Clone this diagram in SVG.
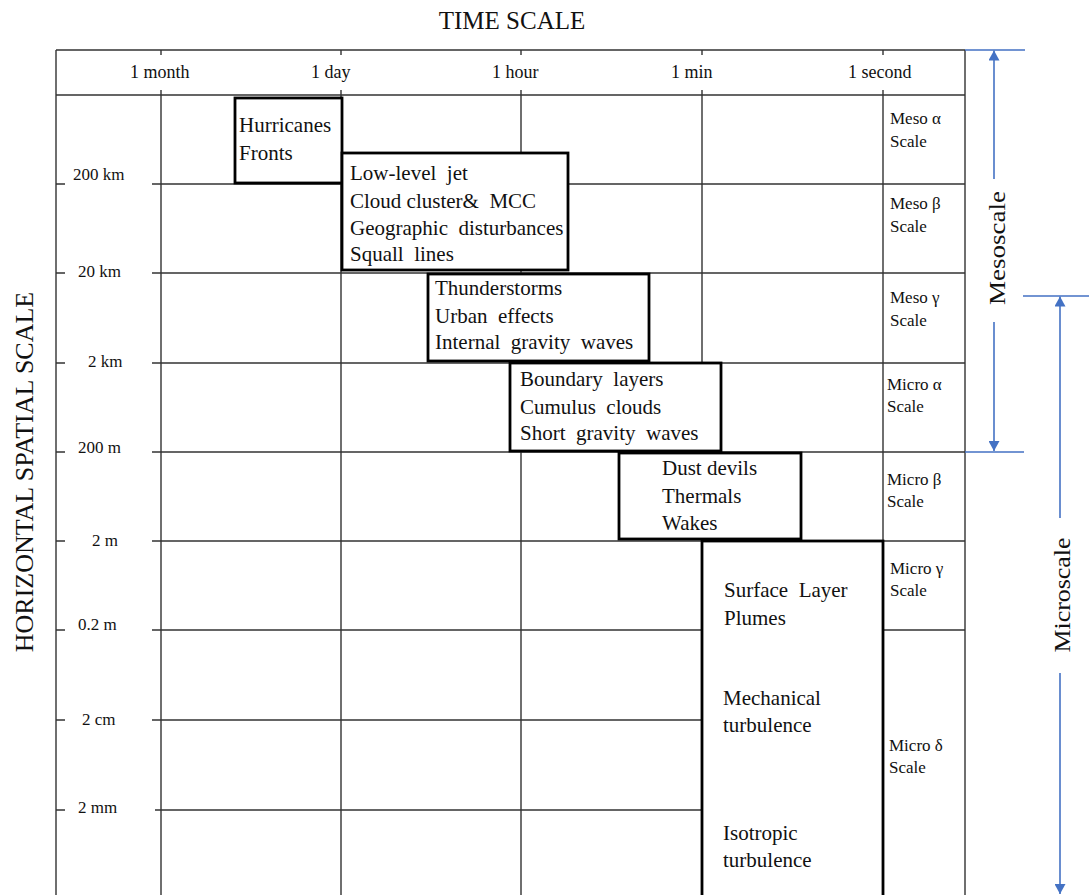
<svg xmlns="http://www.w3.org/2000/svg" width="1089" height="895" viewBox="0 0 1089 895">
<defs>
<marker id="ah" viewBox="0 0 10 10" refX="10" refY="5" markerWidth="10" markerHeight="11" markerUnits="userSpaceOnUse" orient="auto-start-reverse" preserveAspectRatio="none">
<path d="M0,0 L10,5 L0,10 Z" fill="#4472C4"/>
</marker>
<style>
.t{font-family:"Liberation Serif","Times New Roman",serif;fill:#111}
.grid{stroke:#333;stroke-width:1.4;fill:none}
.box{fill:#fff;stroke:#000;stroke-width:2.8}
.bt{font-size:21px}
.hd{font-size:18px}
.rl{font-size:17px}
.sc{font-size:17px}
.blue{stroke:#4472C4;stroke-width:1.6;fill:none}
</style>
</defs>
<rect width="1089" height="895" fill="#fff"/>
<text class="t" x="512" y="29" font-size="25" text-anchor="middle">TIME SCALE</text>
<text class="t" transform="translate(33,472) rotate(-90)" font-size="26" text-anchor="middle">HORIZONTAL SPATIAL SCALE</text>
<g id="grid" class="grid">
<path d="M56,50 H965 M56,95 H965 M56,50 V895 M965,50 V895"/>
<path d="M161,95 V895 M341,95 V895 M521,95 V895 M702,95 V895 M883,95 V895"/>
<path d="M161,50 V55 M341,50 V55 M521,50 V55 M702,50 V55 M883,50 V55 M161,90 V95 M341,90 V95 M521,90 V95 M702,90 V95 M883,90 V95"/>
<path d="M152,184 H965 M152,273 H965 M152,363 H965 M152,452 H965 M152,541 H965 M152,630 H702 M883,630 H965 M152,720 H702 M155,810 H702"/>
<path d="M56,184 H65 M56,273 H65 M56,363 H65 M56,452 H65 M56,541 H65 M56,630 H65 M56,720 H65 M56,810 H65"/>
</g>
<g id="header-labels" class="t hd">
<text x="130" y="78">1 month</text>
<text x="311" y="78">1 day</text>
<text x="492" y="78">1 hour</text>
<text x="671" y="78">1 min</text>
<text x="848" y="78">1 second</text>
</g>
<g id="row-labels" class="t rl">
<text x="73" y="180">200 km</text>
<text x="78" y="277">20 km</text>
<text x="88" y="367">2 km</text>
<text x="78" y="453">200 m</text>
<text x="92" y="546">2 m</text>
<text x="78" y="630">0.2 m</text>
<text x="82" y="725">2 cm</text>
<text x="78" y="813">2 mm</text>
</g>
<g id="scale-labels" class="t sc">
<text x="890" y="124">Meso α</text><text x="890" y="147">Scale</text>
<text x="890" y="209">Meso β</text><text x="890" y="232">Scale</text>
<text x="890" y="303">Meso γ</text><text x="890" y="326">Scale</text>
<text x="887" y="390">Micro α</text><text x="887" y="412">Scale</text>
<text x="887" y="485">Micro β</text><text x="887" y="507">Scale</text>
<text x="890" y="574">Micro γ</text><text x="890" y="596">Scale</text>
<text x="889" y="751">Micro δ</text><text x="889" y="773">Scale</text>
</g>
<g id="hurricanes">
<rect class="box" x="235" y="98" width="107" height="85"/>
<text class="t bt" x="239" y="132">Hurricanes</text>
<text class="t bt" x="239" y="160">Fronts</text>
</g>
<g id="lowleveljet">
<rect class="box" x="342" y="153" width="226" height="117"/>
<text class="t bt" x="350" y="180" xml:space="preserve">Low-level  jet</text>
<text class="t bt" x="350" y="208" xml:space="preserve">Cloud cluster&amp;  MCC</text>
<text class="t bt" x="350" y="235" xml:space="preserve">Geographic  disturbances</text>
<text class="t bt" x="350" y="261" xml:space="preserve">Squall  lines</text>
</g>
<g id="thunderstorms">
<rect class="box" x="428" y="274" width="221" height="87"/>
<text class="t bt" x="435" y="295">Thunderstorms</text>
<text class="t bt" x="435" y="323" xml:space="preserve">Urban  effects</text>
<text class="t bt" x="435" y="349" xml:space="preserve">Internal  gravity  waves</text>
</g>
<g id="boundarylayers">
<rect class="box" x="510" y="363" width="211" height="88"/>
<text class="t bt" x="520" y="386" xml:space="preserve">Boundary  layers</text>
<text class="t bt" x="520" y="414" xml:space="preserve">Cumulus  clouds</text>
<text class="t bt" x="520" y="440" xml:space="preserve">Short  gravity  waves</text>
</g>
<g id="dustdevils">
<rect class="box" x="619" y="453" width="182" height="86"/>
<text class="t bt" x="662" y="475">Dust devils</text>
<text class="t bt" x="662" y="503">Thermals</text>
<text class="t bt" x="662" y="530">Wakes</text>
</g>
<g id="surfacelayer">
<rect class="box" x="702" y="541" width="181" height="400"/>
<text class="t bt" x="724" y="597" xml:space="preserve">Surface  Layer</text>
<text class="t bt" x="724" y="625">Plumes</text>
<text class="t bt" x="723" y="705">Mechanical</text>
<text class="t bt" x="723" y="732">turbulence</text>
<text class="t bt" x="723" y="840">Isotropic</text>
<text class="t bt" x="723" y="867">turbulence</text>
</g>
<g id="connectors">
<path class="blue" d="M965,50 H1025 M965,452 H1024 M1023,296 H1089"/>
<path class="blue" d="M994,179 V50.5" marker-end="url(#ah)"/>
<path class="blue" d="M994,322 V451" marker-end="url(#ah)"/>
<path class="blue" d="M1060,518 V296.5" marker-end="url(#ah)"/>
<path class="blue" d="M1060,673 V894" marker-end="url(#ah)"/>
</g>
<text class="t" transform="translate(1005,248) rotate(-90)" font-size="24" text-anchor="middle" textLength="114" lengthAdjust="spacingAndGlyphs">Mesoscale</text>
<text class="t" transform="translate(1070,595) rotate(-90)" font-size="24" text-anchor="middle" textLength="115" lengthAdjust="spacingAndGlyphs">Microscale</text>
</svg>
